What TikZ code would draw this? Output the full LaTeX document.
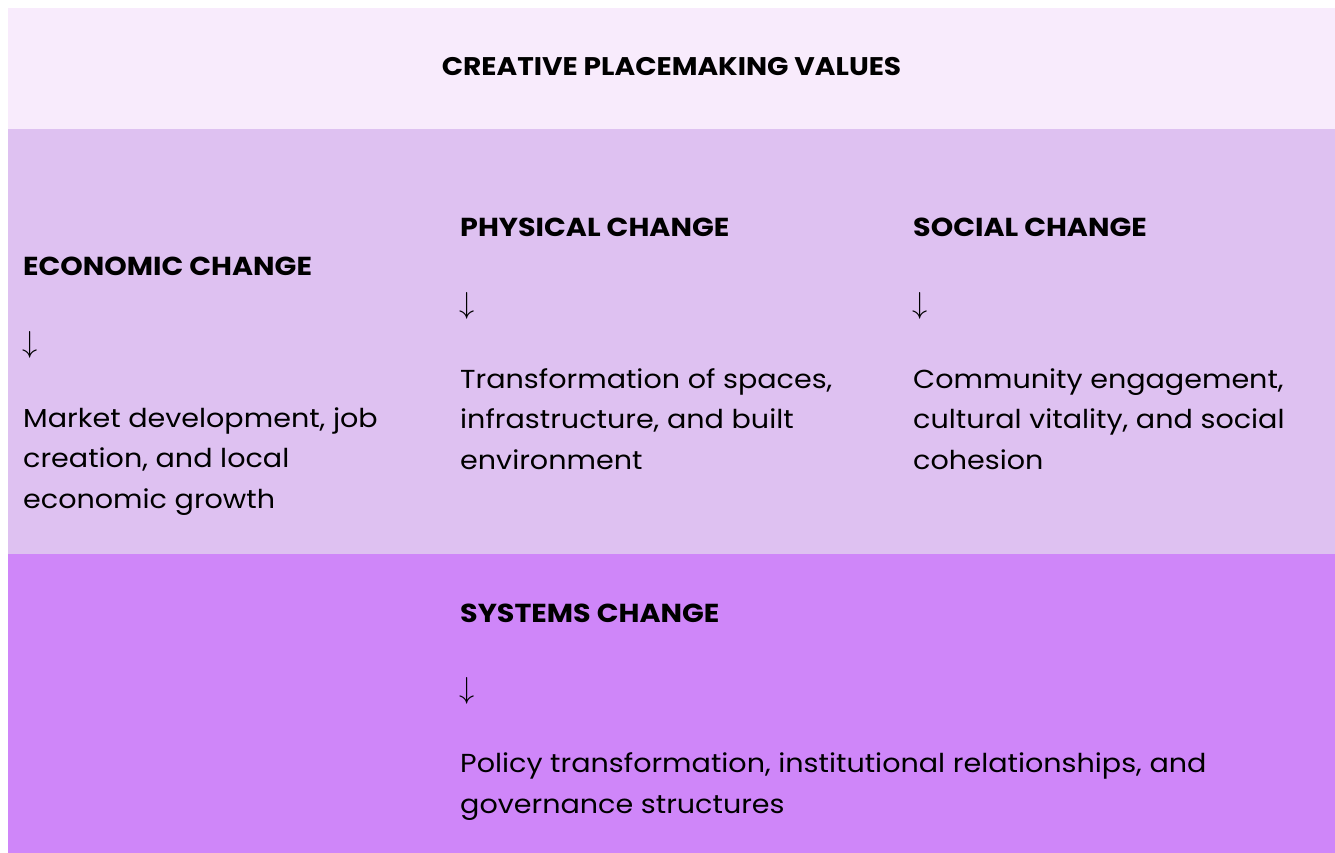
\documentclass[tikz,border=0pt]{standalone}
\usepackage{graphicx}
\usepackage{fontspec}
\setmainfont[FakeStretch=1.1]{Poppins}
\definecolor{toplilac}{HTML}{F8EBFC}
\definecolor{midlilac}{HTML}{DEC1F1}
\definecolor{lowlilac}{HTML}{CF86F9}
\newcommand{\downmark}{\scalebox{1.22}{$\downarrow$}}

\begin{document}
\begin{tikzpicture}[x=1pt,y=-1pt]
        \tikzset{heading/.style={anchor=base west, inner sep=0pt, font=\fontsize{26}{34}\selectfont\bfseries}}
        % base of a body node is the baseline of its last line
        \tikzset{body/.style={anchor=base west, inner sep=0pt, align=left, font=\fontsize{26}{40.5}\selectfont}}
        \tikzset{downarrow/.style={anchor=south west, inner sep=0pt, font=\fontsize{26}{34}\selectfont}}
        \useasboundingbox (0,0) rectangle (1335,853);
        % bands
        \fill[toplilac] (8,8) rectangle (1335,129);
        \fill[midlilac] (8,129) rectangle (1335,554);
        \fill[lowlilac] (8,554) rectangle (1335,853);
        \node[inner sep=0pt, font=\fontsize{25.5}{34}\selectfont\bfseries] (title) at (671.5,67) {CREATIVE PLACEMAKING VALUES};
        % economic
        \node[heading] (econ) at (23,275) {ECONOMIC CHANGE};
        \node[downarrow] (econarrow) at (22,359) {\downmark};
        \node[body] (econtext) at (23,508) {Market development, job\\creation, and local\\economic growth};
        % physical
        \node[heading] (phys) at (460,236) {PHYSICAL CHANGE};
        \node[downarrow] (physarrow) at (459,320) {\downmark};
        \node[body] (phystext) at (460,469) {Transformation of spaces,\\infrastructure, and built\\environment};
        % social
        \node[heading] (soc) at (913,236) {SOCIAL CHANGE};
        \node[downarrow] (socarrow) at (912,320) {\downmark};
        \node[body] (soctext) at (913,469) {Community engagement,\\cultural vitality, and social\\cohesion};
        % systems
        \node[heading] (sys) at (460,622) {SYSTEMS CHANGE};
        \node[downarrow] (sysarrow) at (459,705) {\downmark};
        \node[body] (systext) at (460,813) {Policy transformation, institutional relationships, and\\governance structures};
\end{tikzpicture}
\end{document}
